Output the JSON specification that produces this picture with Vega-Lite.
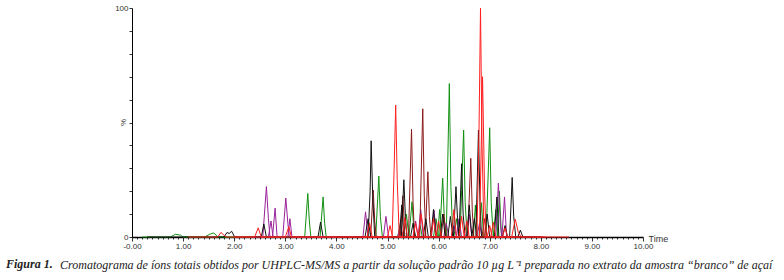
{
  "$schema": "https://vega.github.io/schema/vega-lite/v6.json",
  "width": 511,
  "height": 229,
  "autosize": "none",
  "padding": {"left": 132, "top": 8, "right": 141, "bottom": 43},
  "background": "white",
  "config": {"view": {"stroke": null}, "font": "Liberation Sans", "axisX": {"labelOverlap": false, "labelFlush": false, "labelBound": false}},
  "title": {
    "text": "Cromatograma de íons totais obtidos por UHPLC-MS/MS a partir da solução padrão 10 µg L⁻¹ preparada no extrato da amostra “branco” de açaí",
    "orient": "bottom",
    "anchor": "start",
    "frame": "group",
    "align": "left",
    "dx": -72,
    "offset": -10,
    "font": "Liberation Serif",
    "fontStyle": "italic",
    "fontWeight": "normal",
    "fontSize": 12,
    "color": "#222"
  },
  "layer": [
    {
      "data": {"values": [
        {"s":"g1","t":0.2,"v":0},{"s":"g1","t":0.75,"v":0},{"s":"g1","t":0.85,"v":1.2},{"s":"g1","t":0.95,"v":0.8},{"s":"g1","t":1.0,"v":0},{"s":"g1","t":1.42,"v":0},{"s":"g1","t":1.52,"v":1.2},{"s":"g1","t":1.6,"v":1.8},{"s":"g1","t":1.68,"v":0},{"s":"g1","t":3.38,"v":0},{"s":"g1","t":3.44,"v":19},{"s":"g1","t":3.47,"v":7},{"s":"g1","t":3.5,"v":0},{"s":"g1","t":3.68,"v":0},{"s":"g1","t":3.74,"v":17.5},{"s":"g1","t":3.77,"v":6},{"s":"g1","t":3.8,"v":0},{"s":"g1","t":4.77,"v":0},{"s":"g1","t":4.83,"v":26.6},{"s":"g1","t":4.86,"v":9},{"s":"g1","t":4.9,"v":0},{"s":"g1","t":5.42,"v":0},{"s":"g1","t":5.48,"v":15.4},{"s":"g1","t":5.51,"v":5},{"s":"g1","t":5.54,"v":0},{"s":"g1","t":6.02,"v":0},{"s":"g1","t":6.08,"v":25.7},{"s":"g1","t":6.11,"v":9},{"s":"g1","t":6.14,"v":0},{"s":"g1","t":6.42,"v":0},{"s":"g1","t":6.49,"v":46.7},{"s":"g1","t":6.52,"v":15},{"s":"g1","t":6.56,"v":0},{"s":"g1","t":6.93,"v":0},{"s":"g1","t":7.0,"v":47.7},{"s":"g1","t":7.03,"v":15},{"s":"g1","t":7.07,"v":0},{"s":"g1","t":8.0,"v":0},
        {"s":"g2","t":1.0,"v":0},{"s":"g2","t":5.2,"v":0},{"s":"g2","t":5.25,"v":6},{"s":"g2","t":5.3,"v":0},{"s":"g2","t":5.32,"v":0},{"s":"g2","t":5.37,"v":10},{"s":"g2","t":5.42,"v":0},{"s":"g2","t":5.9,"v":0},{"s":"g2","t":5.95,"v":8},{"s":"g2","t":6.0,"v":0},{"s":"g2","t":6.15,"v":0},{"s":"g2","t":6.21,"v":67},{"s":"g2","t":6.24,"v":22},{"s":"g2","t":6.28,"v":0},{"s":"g2","t":6.79,"v":0},{"s":"g2","t":6.84,"v":15},{"s":"g2","t":6.88,"v":0},{"s":"g2","t":7.07,"v":0},{"s":"g2","t":7.12,"v":12},{"s":"g2","t":7.16,"v":0},{"s":"g2","t":7.9,"v":0},
        {"s":"g3","t":4.3,"v":0},{"s":"g3","t":5.6,"v":0},{"s":"g3","t":5.64,"v":5},{"s":"g3","t":5.68,"v":0},{"s":"g3","t":5.98,"v":0},{"s":"g3","t":6.02,"v":12},{"s":"g3","t":6.06,"v":0},{"s":"g3","t":6.3,"v":0},{"s":"g3","t":6.35,"v":8},{"s":"g3","t":6.4,"v":0},{"s":"g3","t":6.68,"v":0},{"s":"g3","t":6.72,"v":14},{"s":"g3","t":6.76,"v":0},{"s":"g3","t":7.15,"v":0},{"s":"g3","t":7.19,"v":20},{"s":"g3","t":7.23,"v":0},{"s":"g3","t":7.6,"v":0},
        {"s":"p1","t":2.3,"v":0},{"s":"p1","t":2.56,"v":0},{"s":"p1","t":2.63,"v":22},{"s":"p1","t":2.67,"v":8},{"s":"p1","t":2.7,"v":0},{"s":"p1","t":2.75,"v":0},{"s":"p1","t":2.8,"v":12.6},{"s":"p1","t":2.84,"v":0},{"s":"p1","t":2.95,"v":0},{"s":"p1","t":3.01,"v":17},{"s":"p1","t":3.05,"v":6},{"s":"p1","t":3.08,"v":0},{"s":"p1","t":4.52,"v":0},{"s":"p1","t":4.57,"v":11},{"s":"p1","t":4.62,"v":0},{"s":"p1","t":4.92,"v":0},{"s":"p1","t":4.97,"v":9},{"s":"p1","t":5.02,"v":0},{"s":"p1","t":5.86,"v":0},{"s":"p1","t":5.91,"v":11.8},{"s":"p1","t":5.96,"v":0},{"s":"p1","t":6.35,"v":0},{"s":"p1","t":6.4,"v":8},{"s":"p1","t":6.45,"v":0},{"s":"p1","t":7.12,"v":0},{"s":"p1","t":7.17,"v":23.5},{"s":"p1","t":7.21,"v":5},{"s":"p1","t":7.24,"v":0},{"s":"p1","t":7.7,"v":0},
        {"s":"p2","t":2.4,"v":0},{"s":"p2","t":2.67,"v":0},{"s":"p2","t":2.72,"v":7},{"s":"p2","t":2.76,"v":0},{"s":"p2","t":3.05,"v":0},{"s":"p2","t":3.09,"v":8},{"s":"p2","t":3.13,"v":0},{"s":"p2","t":5.6,"v":0},{"s":"p2","t":5.65,"v":12},{"s":"p2","t":5.7,"v":0},{"s":"p2","t":6.1,"v":0},{"s":"p2","t":6.15,"v":6},{"s":"p2","t":6.2,"v":0},{"s":"p2","t":6.55,"v":0},{"s":"p2","t":6.6,"v":10},{"s":"p2","t":6.65,"v":0},{"s":"p2","t":7.24,"v":0},{"s":"p2","t":7.29,"v":17.5},{"s":"p2","t":7.33,"v":0},{"s":"p2","t":7.8,"v":0},
        {"s":"p3","t":4.5,"v":0},{"s":"p3","t":5.2,"v":0},{"s":"p3","t":5.25,"v":5},{"s":"p3","t":5.3,"v":0},{"s":"p3","t":5.5,"v":0},{"s":"p3","t":5.55,"v":7},{"s":"p3","t":5.6,"v":0},{"s":"p3","t":6.25,"v":0},{"s":"p3","t":6.3,"v":5},{"s":"p3","t":6.35,"v":0},{"s":"p3","t":6.75,"v":0},{"s":"p3","t":6.8,"v":6},{"s":"p3","t":6.85,"v":0},{"s":"p3","t":7.4,"v":0},
        {"s":"m1","t":4.0,"v":0},{"s":"m1","t":4.67,"v":0},{"s":"m1","t":4.72,"v":20.5},{"s":"m1","t":4.75,"v":7},{"s":"m1","t":4.78,"v":0},{"s":"m1","t":5.41,"v":0},{"s":"m1","t":5.47,"v":47},{"s":"m1","t":5.5,"v":15},{"s":"m1","t":5.53,"v":0},{"s":"m1","t":5.63,"v":0},{"s":"m1","t":5.69,"v":56},{"s":"m1","t":5.72,"v":18},{"s":"m1","t":5.75,"v":0},{"s":"m1","t":6.57,"v":0},{"s":"m1","t":6.63,"v":34.4},{"s":"m1","t":6.66,"v":11},{"s":"m1","t":6.69,"v":0},{"s":"m1","t":7.6,"v":0},
        {"s":"m2","t":4.5,"v":0},{"s":"m2","t":5.25,"v":0},{"s":"m2","t":5.3,"v":18},{"s":"m2","t":5.34,"v":0},{"s":"m2","t":5.74,"v":0},{"s":"m2","t":5.79,"v":28.5},{"s":"m2","t":5.82,"v":9},{"s":"m2","t":5.85,"v":0},{"s":"m2","t":6.05,"v":0},{"s":"m2","t":6.1,"v":10},{"s":"m2","t":6.15,"v":0},{"s":"m2","t":6.85,"v":0},{"s":"m2","t":6.9,"v":8},{"s":"m2","t":6.95,"v":0},{"s":"m2","t":7.5,"v":0},
        {"s":"k1","t":0.3,"v":0},{"s":"k1","t":1.8,"v":0},{"s":"k1","t":1.86,"v":2},{"s":"k1","t":1.9,"v":1.5},{"s":"k1","t":1.95,"v":2.5},{"s":"k1","t":2.01,"v":0},{"s":"k1","t":2.53,"v":0},{"s":"k1","t":2.58,"v":5.7},{"s":"k1","t":2.63,"v":0},{"s":"k1","t":3.64,"v":0},{"s":"k1","t":3.69,"v":6.5},{"s":"k1","t":3.74,"v":0},{"s":"k1","t":4.62,"v":0},{"s":"k1","t":4.66,"v":20},{"s":"k1","t":4.68,"v":42},{"s":"k1","t":4.71,"v":18},{"s":"k1","t":4.75,"v":0},{"s":"k1","t":5.27,"v":0},{"s":"k1","t":5.32,"v":25},{"s":"k1","t":5.35,"v":9},{"s":"k1","t":5.38,"v":0},{"s":"k1","t":6.29,"v":0},{"s":"k1","t":6.34,"v":22},{"s":"k1","t":6.37,"v":8},{"s":"k1","t":6.4,"v":0},{"s":"k1","t":6.73,"v":0},{"s":"k1","t":6.78,"v":46.7},{"s":"k1","t":6.81,"v":15},{"s":"k1","t":6.84,"v":0},{"s":"k1","t":7.09,"v":0},{"s":"k1","t":7.14,"v":17.5},{"s":"k1","t":7.18,"v":0},{"s":"k1","t":7.39,"v":0},{"s":"k1","t":7.44,"v":26},{"s":"k1","t":7.47,"v":9},{"s":"k1","t":7.51,"v":0},{"s":"k1","t":8.05,"v":0},
        {"s":"k2","t":4.0,"v":0},{"s":"k2","t":4.56,"v":0},{"s":"k2","t":4.62,"v":8},{"s":"k2","t":4.67,"v":0},{"s":"k2","t":5.23,"v":0},{"s":"k2","t":5.28,"v":14},{"s":"k2","t":5.32,"v":0},{"s":"k2","t":5.7,"v":0},{"s":"k2","t":5.75,"v":8},{"s":"k2","t":5.8,"v":0},{"s":"k2","t":6.03,"v":0},{"s":"k2","t":6.08,"v":10},{"s":"k2","t":6.13,"v":0},{"s":"k2","t":6.4,"v":0},{"s":"k2","t":6.45,"v":32},{"s":"k2","t":6.48,"v":10},{"s":"k2","t":6.52,"v":0},{"s":"k2","t":6.65,"v":0},{"s":"k2","t":6.7,"v":8},{"s":"k2","t":6.75,"v":0},{"s":"k2","t":7.25,"v":0},{"s":"k2","t":7.3,"v":5},{"s":"k2","t":7.35,"v":0},{"s":"k2","t":7.9,"v":0},
        {"s":"k3","t":4.4,"v":0},{"s":"k3","t":5.45,"v":0},{"s":"k3","t":5.5,"v":6},{"s":"k3","t":5.55,"v":0},{"s":"k3","t":5.85,"v":0},{"s":"k3","t":5.9,"v":12},{"s":"k3","t":5.95,"v":0},{"s":"k3","t":6.18,"v":0},{"s":"k3","t":6.23,"v":9},{"s":"k3","t":6.28,"v":0},{"s":"k3","t":6.55,"v":0},{"s":"k3","t":6.6,"v":14},{"s":"k3","t":6.65,"v":0},{"s":"k3","t":6.9,"v":0},{"s":"k3","t":6.95,"v":10},{"s":"k3","t":7.0,"v":0},{"s":"k3","t":7.55,"v":0},{"s":"k3","t":7.6,"v":3},{"s":"k3","t":7.65,"v":0},{"s":"k3","t":8.0,"v":0},
        {"s":"r1","t":1.1,"v":0},{"s":"r1","t":1.68,"v":0},{"s":"r1","t":1.74,"v":2},{"s":"r1","t":1.8,"v":0.8},{"s":"r1","t":1.84,"v":0},{"s":"r1","t":2.4,"v":0},{"s":"r1","t":2.47,"v":4},{"s":"r1","t":2.53,"v":0},{"s":"r1","t":3.0,"v":0},{"s":"r1","t":3.07,"v":4.5},{"s":"r1","t":3.12,"v":0},{"s":"r1","t":5.09,"v":0},{"s":"r1","t":5.13,"v":30},{"s":"r1","t":5.16,"v":57.6},{"s":"r1","t":5.19,"v":25},{"s":"r1","t":5.23,"v":0},{"s":"r1","t":6.75,"v":0},{"s":"r1","t":6.79,"v":45},{"s":"r1","t":6.82,"v":100},{"s":"r1","t":6.85,"v":40},{"s":"r1","t":6.89,"v":0},{"s":"r1","t":7.43,"v":0},{"s":"r1","t":7.5,"v":7.8},{"s":"r1","t":7.56,"v":2},{"s":"r1","t":7.62,"v":0},{"s":"r1","t":8.55,"v":0},
        {"s":"r2","t":2.0,"v":0},{"s":"r2","t":4.6,"v":0},{"s":"r2","t":4.65,"v":6},{"s":"r2","t":4.7,"v":0},{"s":"r2","t":5.0,"v":0},{"s":"r2","t":5.05,"v":5},{"s":"r2","t":5.1,"v":0},{"s":"r2","t":5.29,"v":0},{"s":"r2","t":5.34,"v":8.5},{"s":"r2","t":5.39,"v":0},{"s":"r2","t":5.5,"v":0},{"s":"r2","t":5.55,"v":6},{"s":"r2","t":5.6,"v":0},{"s":"r2","t":5.85,"v":0},{"s":"r2","t":5.9,"v":8},{"s":"r2","t":5.95,"v":0},{"s":"r2","t":6.25,"v":0},{"s":"r2","t":6.3,"v":12},{"s":"r2","t":6.35,"v":0},{"s":"r2","t":6.5,"v":0},{"s":"r2","t":6.55,"v":7},{"s":"r2","t":6.6,"v":0},{"s":"r2","t":6.8,"v":0},{"s":"r2","t":6.86,"v":70},{"s":"r2","t":6.9,"v":20},{"s":"r2","t":6.93,"v":0},{"s":"r2","t":7.02,"v":0},{"s":"r2","t":7.07,"v":6.5},{"s":"r2","t":7.12,"v":0},{"s":"r2","t":7.25,"v":0},{"s":"r2","t":7.3,"v":4},{"s":"r2","t":7.35,"v":0},{"s":"r2","t":8.1,"v":0},
        {"s":"r3","t":4.5,"v":0},{"s":"r3","t":5.6,"v":0},{"s":"r3","t":5.66,"v":10},{"s":"r3","t":5.72,"v":0},{"s":"r3","t":5.95,"v":0},{"s":"r3","t":6.0,"v":7},{"s":"r3","t":6.05,"v":0},{"s":"r3","t":6.4,"v":0},{"s":"r3","t":6.45,"v":9},{"s":"r3","t":6.5,"v":0},{"s":"r3","t":6.95,"v":0},{"s":"r3","t":7.0,"v":5},{"s":"r3","t":7.05,"v":0},{"s":"r3","t":7.6,"v":0}
      ]},
      "mark": {"type": "line", "strokeWidth": 1, "interpolate": "linear"},
      "encoding": {
        "x": {
          "field": "t", "type": "quantitative",
          "scale": {"domain": [0, 10], "nice": false, "zero": false},
          "axis": {
            "values": [0,0.1,0.2,0.3,0.4,0.5,0.6,0.7,0.8,0.9,1,1.1,1.2,1.3,1.4,1.5,1.6,1.7,1.8,1.9,2,2.1,2.2,2.3,2.4,2.5,2.6,2.7,2.8,2.9,3,3.1,3.2,3.3,3.4,3.5,3.6,3.7,3.8,3.9,4,4.1,4.2,4.3,4.4,4.5,4.6,4.7,4.8,4.9,5,5.1,5.2,5.3,5.4,5.5,5.6,5.7,5.8,5.9,6,6.1,6.2,6.3,6.4,6.5,6.6,6.7,6.8,6.9,7,7.1,7.2,7.3,7.4,7.5,7.6,7.7,7.8,7.9,8,8.1,8.2,8.3,8.4,8.5,8.6,8.7,8.8,8.9,9,9.1,9.2,9.3,9.4,9.5,9.6,9.7,9.8,9.9,10],
            "tickCount": 1000,
            "labelExpr": "abs(datum.value - round(datum.value)) < 0.001 ? (datum.value == 0 ? '-0.00' : format(datum.value, '.2f')) : ''",
            "tickSize": {"condition": {"test": "abs(datum.value - round(datum.value)) < 0.001", "value": 4}, "value": 2},
            "grid": false,
            "domainColor": "#000",
            "domainWidth": 1.5,
            "tickColor": "#000",
            "tickWidth": 0.8,
            "labelFontSize": 8,
            "labelColor": "#333",
            "labelPadding": 1,
            "labelOverlap": false,
            "labelFlush": false,
            "title": "Time",
            "titleX": 516,
            "titleY": 1,
            "titleAlign": "left",
            "titleBaseline": "middle",
            "titleFontSize": 9,
            "titleFontWeight": "normal",
            "titleColor": "#333"
          }
        },
        "y": {
          "field": "v", "type": "quantitative",
          "scale": {"domain": [0, 100], "nice": false},
          "axis": {
            "values": [0,10,20,30,40,50,60,70,80,90,100],
            "tickCount": 100,
            "labelExpr": "datum.value == 0 || datum.value == 100 ? datum.label : ''",
            "tickSize": 3,
            "grid": false,
            "domainColor": "#000",
            "tickColor": "#000",
            "tickWidth": 0.8,
            "labelFontSize": 8,
            "labelColor": "#333",
            "labelPadding": 1,
            "title": "%",
            "titleX": -5,
            "titleY": 114,
            "titleAngle": -90,
            "titleAlign": "center",
            "titleBaseline": "bottom",
            "titleFontSize": 8,
            "titleFontWeight": "normal",
            "titleColor": "#333"
          }
        },
        "color": {
          "field": "s", "type": "nominal", "legend": null,
          "scale": {
            "domain": ["g1","g2","g3","p1","p2","p3","m1","m2","k1","k2","k3","r1","r2","r3"],
            "range": ["#109010","#109010","#109010","#992299","#992299","#992299","#8b1a1a","#8b1a1a","#111111","#111111","#111111","#ff2020","#ff2020","#ff2020"]
          }
        }
      }
    },
    {
      "data": {"values": [{"label": "Figura 1."}]},
      "mark": {"type": "text", "align": "left", "baseline": "alphabetic", "font": "Liberation Serif", "fontStyle": "italic", "fontWeight": "bold", "fontSize": 12, "color": "#222"},
      "encoding": {
        "x": {"datum": -2.466, "type": "quantitative"},
        "y": {"datum": -13.5, "type": "quantitative"},
        "text": {"field": "label"}
      }
    }
  ]
}
